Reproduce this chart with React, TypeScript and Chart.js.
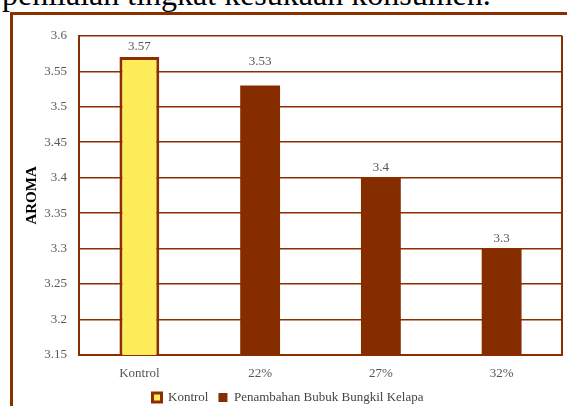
import React, { useEffect, useRef } from "react";
import { Chart, registerables } from "chart.js";

Chart.register(...registerables);

const headingText = "penilaian tingkat kesukaan konsumen.";
const categories = ["Kontrol", "22%", "27%", "32%"];
const seriesNames = ["Kontrol", "Penambahan Bubuk Bungkil Kelapa"];
const kontrolValues: (number | null)[] = [3.57, null, null, null];
const bungkilValues: (number | null)[] = [null, 3.53, 3.4, 3.3];
const yMin = 3.15;
const yMax = 3.6;
const yStep = 0.05;
const yTitle = "AROMA";

const BROWN = "#8B2F00";
const BAR_BROWN = "#862D00";
const YELLOW = "#FFEC5A";
const SERIF = "'Liberation Serif', 'Times New Roman', serif";

// Value labels above bars; a label that would collide with a gridline is lifted above it.
const valueLabels = {
  id: "valueLabels",
  afterDatasetsDraw(chart: any) {
    const ctx = chart.ctx;
    const yScale = chart.scales.y;
    const tickPixels = yScale.ticks.map((t: any) => yScale.getPixelForValue(t.value));
    ctx.save();
    ctx.font = `13px ${SERIF}`;
    ctx.fillStyle = "#555555";
    ctx.textAlign = "center";
    ctx.textBaseline = "bottom";
    chart.data.datasets.forEach((ds: any, di: number) => {
      const meta = chart.getDatasetMeta(di);
      meta.data.forEach((el: any, i: number) => {
        const v = ds.data[i];
        if (v == null) return;
        let bottom = el.y - 4;
        const top = bottom - 11;
        tickPixels.forEach((p: number) => {
          if (p > top - 1 && p < bottom + 1) bottom = p - 3;
        });
        ctx.fillText(String(v), el.x, bottom);
      });
    });
    ctx.restore();
  },
};

const plotFrame = {
  id: "plotFrame",
  afterDraw(chart: any) {
    const { ctx, chartArea } = chart;
    ctx.save();
    ctx.strokeStyle = BROWN;
    ctx.lineWidth = 2;
    ctx.beginPath();
    ctx.moveTo(chartArea.right, chartArea.top);
    ctx.lineTo(chartArea.right, chartArea.bottom);
    ctx.stroke();
    ctx.restore();
  },
};

export default function App() {
  const canvasRef = useRef<HTMLCanvasElement | null>(null);

  useEffect(() => {
    if (!canvasRef.current) return;
    const chart = new Chart(canvasRef.current, {
      type: "bar",
      data: {
        labels: categories,
        datasets: [
          {
            label: seriesNames[0],
            data: kontrolValues,
            backgroundColor: YELLOW,
            borderColor: BROWN,
            borderWidth: 3,
            grouped: false,
            barPercentage: 0.33,
            categoryPercentage: 1,
          } as any,
          {
            label: seriesNames[1],
            data: bungkilValues,
            backgroundColor: BAR_BROWN,
            borderColor: BAR_BROWN,
            borderWidth: 0,
            grouped: false,
            barPercentage: 0.33,
            categoryPercentage: 1,
          } as any,
        ],
      },
      options: {
        responsive: false,
        animation: false,
        layout: { padding: { top: 8, right: 5, left: 0, bottom: 0 } },
        plugins: {
          legend: {
            position: "bottom",
            labels: {
              boxWidth: 9,
              boxHeight: 9,
              padding: 10,
              color: "#444444",
              font: { family: SERIF, size: 13 },
            },
          },
          tooltip: { enabled: false },
        },
        scales: {
          x: {
            afterFit: (s: any) => {
              s.height = 26;
            },
            grid: { display: false, drawTicks: false },
            border: { color: BROWN, width: 2 },
            ticks: {
              color: "#555555",
              padding: 11,
              font: { family: SERIF, size: 13 },
            },
          },
          y: {
            min: yMin,
            max: yMax,
            afterFit: (s: any) => {
              s.width = 65;
            },
            grid: { color: BROWN, lineWidth: 1.5, drawTicks: false },
            border: { color: BROWN, width: 2 },
            ticks: {
              stepSize: yStep,
              padding: 12,
              color: "#595959",
              font: { family: SERIF, size: 13 },
              callback: (v: any) => String(parseFloat(Number(v).toFixed(2))),
            },
            title: {
              display: true,
              text: yTitle,
              color: "#000000",
              font: { family: SERIF, size: 15, weight: "bold" },
              padding: { top: 9, bottom: 0 },
            },
          },
        },
      } as any,
      plugins: [valueLabels, plotFrame],
    });
    return () => chart.destroy();
  }, []);

  return (
    <div
      style={{
        position: "absolute",
        left: 0,
        top: 0,
        width: 567,
        height: 406,
        overflow: "hidden",
        background: "#ffffff",
      }}
    >
      <div
        style={{
          position: "absolute",
          left: 2,
          top: -22,
          fontFamily: SERIF,
          fontSize: 32,
          lineHeight: "32px",
          whiteSpace: "nowrap",
          color: "#000000",
        }}
      >
        {headingText}
      </div>
      <div
        style={{
          position: "absolute",
          left: 10,
          top: 12,
          width: 620,
          height: 460,
          border: `3px solid ${BROWN}`,
          boxSizing: "border-box",
        }}
      />
      <canvas
        ref={canvasRef}
        width={553}
        height={398}
        style={{ position: "absolute", left: 14, top: 16, width: 553, height: 398 }}
      />
    </div>
  );
}
